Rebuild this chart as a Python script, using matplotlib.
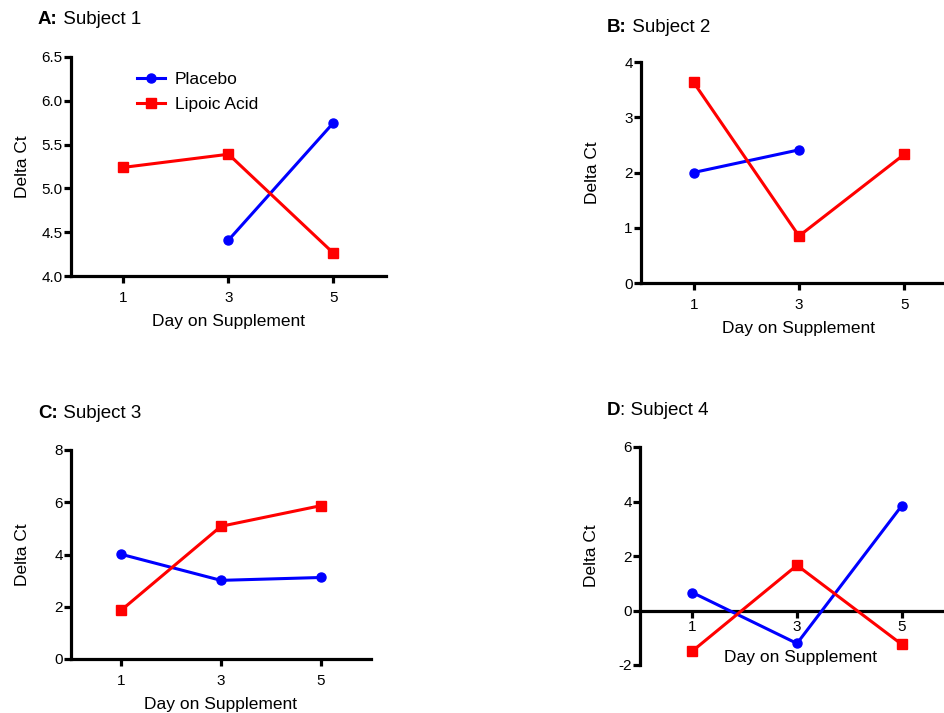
import matplotlib.pyplot as plt

plt.rcParams['font.family'] = ['Liberation Sans', 'DejaVu Sans']

days = [1, 3, 5]

# subject 1
s1_placebo_days = [3, 5]
s1_placebo = [4.41, 5.75]
s1_lipoic = [5.24, 5.39, 4.26]

# subject 2
s2_placebo_days = [1, 3]
s2_placebo = [2.00, 2.41]
s2_lipoic = [3.63, 0.85, 2.33]

# subject 3
s3_placebo = [4.01, 3.01, 3.12]
s3_lipoic = [1.86, 5.08, 5.87]

# subject 4
s4_placebo = [0.66, -1.21, 3.84]
s4_lipoic = [-1.49, 1.66, -1.24]

W, H = 945, 713
fig = plt.figure(figsize=(W / 100, H / 100), dpi=100)


def make_axes(left, top, right, bottom):
    ax = fig.add_axes([left / W, 1 - bottom / H, (right - left) / W, (bottom - top) / H])
    ax.px_width = right - left
    return ax


def style(ax, ylim, yticks, ylabels, zero_spine=False):
    for s in ['top', 'right']:
        ax.spines[s].set_visible(False)
    for s in ['left', 'bottom']:
        ax.spines[s].set_linewidth(2.3)
    if zero_spine:
        ax.spines['bottom'].set_position(('data', 0))
    ax.set_xlim(0, 6)
    ax.set_ylim(*ylim)
    ax.set_xticks(days)
    ax.set_xticklabels([str(d) for d in days])
    ax.set_yticks(yticks)
    ax.set_yticklabels(ylabels)
    ax.tick_params(width=2.3, length=5, labelsize=11)
    ax.tick_params(axis='x', pad=6)
    ax.tick_params(axis='y', pad=1)
    ax.set_ylabel('Delta Ct', fontsize=12.5)
    # keep the y label at the same pixel distance from the spine in every panel
    ax.yaxis.set_label_coords(-41 / ax.px_width, 0.5)
    ax.set_xlabel('Day on Supplement', fontsize=12.5, labelpad=6)


def plot_pair(ax, pdays, pvals, lvals):
    ax.plot(pdays, pvals, color='#0000ff', lw=2.2, marker='o', ms=6.5,
            label='Placebo', clip_on=False, zorder=3)
    ax.plot(days, lvals, color='#ff0000', lw=2.2, marker='s', ms=7.5,
            label='Lipoic Acid', clip_on=False, zorder=3)


def panel_title(x, y, letter, rest, bold_colon=True):
    t = fig.text(x / W, 1 - y / H, letter + (':' if bold_colon else ''),
                 fontsize=13.5, fontweight='bold', va='center', ha='left')
    fig.canvas.draw()
    bb = t.get_window_extent()
    fig.text(bb.x1 / W, 1 - y / H, ('' if bold_colon else ':') + ' ' + rest,
             fontsize=13.5, va='center', ha='left')


# A
axA = make_axes(71, 57, 386, 276)
plot_pair(axA, s1_placebo_days, s1_placebo, s1_lipoic)
style(axA, (4.0, 6.5), [4.0, 4.5, 5.0, 5.5, 6.0, 6.5],
      ['4.0', '4.5', '5.0', '5.5', '6.0', '6.5'])
axA.legend(loc='upper left', bbox_to_anchor=(0.209, 0.932), frameon=False,
           borderpad=0, borderaxespad=0, fontsize=12.5, handlelength=1.6,
           labelspacing=0.55, handletextpad=0.6)

# B
axB = make_axes(641, 62, 957, 283)
plot_pair(axB, s2_placebo_days, s2_placebo, s2_lipoic)
style(axB, (0, 4), [0, 1, 2, 3, 4], ['0', '1', '2', '3', '4'])

# C
axC = make_axes(71, 450, 371, 659)
plot_pair(axC, days, s3_placebo, s3_lipoic)
style(axC, (0, 8), [0, 2, 4, 6, 8], ['0', '2', '4', '6', '8'])

# D: x axis crosses at zero
axD = make_axes(640, 447, 954, 665)
plot_pair(axD, days, s4_placebo, s4_lipoic)
style(axD, (-2, 6), [-2, 0, 2, 4, 6], ['-2', '0', '2', '4', '6'], zero_spine=True)
axD.tick_params(axis='x', pad=2)
axD.xaxis.set_label_coords(0.51, 0.07)

panel_title(38, 19, 'A', 'Subject 1')
panel_title(607, 27, 'B', 'Subject 2')
panel_title(38, 414, 'C', 'Subject 3')
panel_title(607, 411, 'D', 'Subject 4', bold_colon=False)

fig.savefig('out.png', dpi=100)
